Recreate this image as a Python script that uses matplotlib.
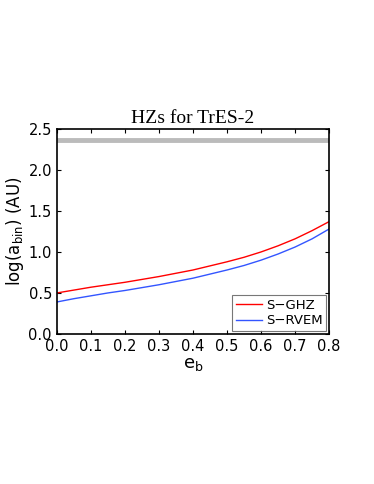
import numpy as np
import matplotlib
matplotlib.use("Agg")
import matplotlib.pyplot as plt

eb = [0.0, 0.05, 0.1, 0.15, 0.2, 0.25, 0.3, 0.35, 0.4, 0.45, 0.5, 0.55, 0.6, 0.65, 0.7, 0.75, 0.8]
ghz = [0.50, 0.535, 0.57, 0.60, 0.63, 0.665, 0.70, 0.74, 0.78, 0.83, 0.88, 0.935, 1.00, 1.075, 1.16, 1.26, 1.37]
rvem = [0.39, 0.43, 0.465, 0.50, 0.53, 0.565, 0.60, 0.64, 0.68, 0.73, 0.78, 0.835, 0.90, 0.975, 1.06, 1.16, 1.28]
limit = 2.36

fig = plt.figure(figsize=(3.74, 4.84), dpi=100)
ax = fig.add_axes([0.152, 0.31, 0.728, 0.4236])

ax.axhline(limit, color="#bbbbbb", lw=3.5)
ax.plot(eb, ghz, color="red", lw=1, label="S\u2212GHZ")
ax.plot(eb, rvem, color="#3355ff", lw=1, label="S\u2212RVEM")

ax.set_xlim(0, 0.8)
ax.set_ylim(0, 2.5)
ax.set_xticks(np.arange(0, 0.81, 0.1))
ax.set_yticks(np.arange(0, 2.51, 0.5))
ax.tick_params(direction="in", top=True, right=True, labelsize=10.5, length=3, width=0.8)
for s in ax.spines.values():
    s.set_linewidth(1.2)

ax.set_title("HZs for TrES-2", family="Liberation Serif", fontsize=14, pad=4)
ax.set_xlabel("$\\mathregular{e_b}$", fontsize=13, labelpad=1)
ax.set_ylabel("$\\mathregular{log(a_{bin})}$ (AU)", fontsize=12, labelpad=2)

leg = ax.legend(loc="lower right", fontsize=9.5, fancybox=False, borderaxespad=0.2,
                handlelength=2.0, borderpad=0.3, labelspacing=0.2, handletextpad=0.3)
leg.get_frame().set_edgecolor("#555555")
leg.get_frame().set_linewidth(0.8)

fig.savefig("out.png", dpi=100)
